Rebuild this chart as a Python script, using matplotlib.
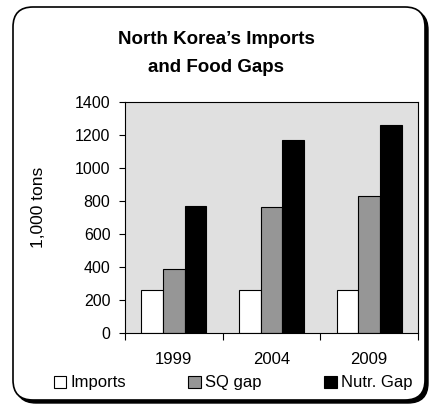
import numpy as np
import matplotlib
matplotlib.use("Agg")
import matplotlib.pyplot as plt
from matplotlib.patches import FancyBboxPatch
from matplotlib.transforms import IdentityTransform

plt.rcParams['font.family'] = ['Liberation Sans', 'DejaVu Sans']

years = ['1999', '2004', '2009']
imports = [263, 258, 263]
sq_gap = [390, 764, 830]
nutr_gap = [770, 1170, 1259]
series_names = ['Imports', 'SQ gap', 'Nutr. Gap']
colors = ['white', '#969696', 'black']

W, H = 431, 405
fig = plt.figure(figsize=(W / 100, H / 100), dpi=100)

# rounded frame with a shadow on the right / bottom (pixel coords)
shadow = FancyBboxPatch((16, 2), 412, 393,
                        boxstyle="round,pad=0,rounding_size=20",
                        transform=IdentityTransform(), facecolor='black',
                        edgecolor='black', lw=1, zorder=-2)
fig.patches.append(shadow)
frame = FancyBboxPatch((13, 5), 412, 393,
                       boxstyle="round,pad=0,rounding_size=20",
                       transform=IdentityTransform(), facecolor='white',
                       edgecolor='black', lw=1.2, zorder=-1)
fig.patches.append(frame)

ax = fig.add_axes([125 / W, 1 - 333 / H, 293 / W, 231 / H])
ax.set_facecolor('#e0e0e0')

x = np.arange(len(years))
bw = 0.222
for i, (vals, c) in enumerate(zip([imports, sq_gap, nutr_gap], colors)):
    ax.bar(x + (i - 1) * bw, vals, bw, color=c, edgecolor='black',
           linewidth=0.8, label=series_names[i], zorder=2)

ax.set_xlim(-0.5, 2.5)
ax.set_ylim(0, 1400)
ax.set_yticks(range(0, 1401, 200))
ax.set_xticks([-0.5, 0.5, 1.5, 2.5])
ax.set_xticklabels([])
ax.tick_params(axis='x', direction='out', length=5, width=0.8)
ax.tick_params(axis='y', direction='out', length=4, width=0.8, labelsize=11.5, pad=6.5)
for s in ax.spines.values():
    s.set_linewidth(0.8)

for xi, y in zip(x, years):
    ax.text(xi, -27 / 231, y, ha='center', va='center', fontsize=12,
            transform=ax.get_xaxis_transform())

fig.text(216 / W, 1 - 40 / H, "North Korea\u2019s Imports", ha='center',
         va='center', fontsize=13.5, fontweight='bold')
fig.text(216 / W, 1 - 67 / H, "and Food Gaps", ha='center',
         va='center', fontsize=13.5, fontweight='bold')
fig.text(39 / W, 1 - 207 / H, "1,000 tons", rotation=90, ha='center',
         va='center', fontsize=12.5)

leg = fig.legend(loc='center', bbox_to_anchor=(233 / W, 1 - 383 / H),
                 ncol=3, frameon=False, fontsize=12, handlelength=0.75,
                 handleheight=0.75, handletextpad=0.25, columnspacing=3.75,
                 borderpad=0, borderaxespad=0)

fig.savefig('out.png', dpi=100)
